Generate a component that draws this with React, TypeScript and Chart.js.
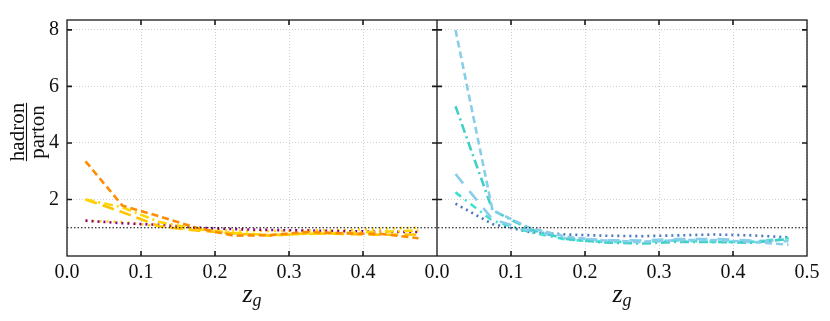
import React, { useEffect, useRef } from "react";
import { Chart, registerables } from "chart.js";

Chart.register(...registerables);

// bin centres in z_g (shared by both panels)
const zgBins = [0.025, 0.075, 0.125, 0.175, 0.225, 0.275, 0.325, 0.375, 0.425, 0.475];

// left panel series (hadron / parton)
const leftOrangeDashed = [3.35, 1.78, 1.4, 1.0, 0.72, 0.74, 0.85, 0.8, 0.78, 0.63];
const leftGoldDashDot = [2.0, 1.72, 1.2, 0.95, 0.82, 0.74, 0.78, 0.82, 0.86, 0.9];
const leftYellowDashed = [2.0, 1.55, 1.05, 0.9, 0.8, 0.72, 0.8, 0.78, 0.75, 0.76];
const leftPurpleDotted = [1.25, 1.16, 1.1, 1.0, 0.95, 0.92, 0.9, 0.88, 0.86, 0.85];
const leftYellowDotted = [1.25, 1.2, 1.05, 0.95, 0.9, 0.88, 0.9, 0.92, 0.97, 1.0];

// right panel series (hadron / parton)
const rightSkyDashed = [8.0, 1.62, 1.0, 0.68, 0.55, 0.5, 0.56, 0.56, 0.5, 0.4];
const rightTealDashDot = [5.3, 1.62, 0.95, 0.6, 0.48, 0.44, 0.5, 0.5, 0.47, 0.6];
const rightSkyLongDash = [2.9, 1.3, 0.9, 0.62, 0.56, 0.55, 0.6, 0.6, 0.55, 0.52];
const rightTurqDashDot = [2.25, 1.25, 0.85, 0.58, 0.5, 0.5, 0.55, 0.5, 0.5, 0.63];
const rightBlueDotted = [1.85, 1.13, 0.85, 0.76, 0.72, 0.7, 0.73, 0.76, 0.73, 0.66];

// reference line and axes
const referenceRatio = 1;
const panelOffsets = [0, 0.5];
const xTickValues = [0, 0.1, 0.2, 0.3, 0.4, 0.5];
const yTickValues = [2, 4, 6, 8];
const yMax = 8.35;
const xTitle = "z";
const xTitleSub = "g";
const yTitleTop = "hadron";
const yTitleBottom = "parton";

const SERIF = "'Liberation Serif', 'DejaVu Serif', serif";

function mk(label: string, vals: number[], offset: number, color: string, dash: number[]) {
  return {
    label,
    data: zgBins.map((x, i) => ({ x: x + offset, y: vals[i] })),
    borderColor: color,
    backgroundColor: color,
    borderWidth: 2.6,
    borderDash: dash,
    pointRadius: 0,
    tension: 0,
    fill: false,
  };
}

const framePlugin = {
  id: "frame",
  afterDraw(chart: any) {
    const { ctx, chartArea, scales } = chart;
    const { left, right, top, bottom } = chartArea;
    const xs = scales.x;
    const ys = scales.y;
    const mid = xs.getPixelForValue(0.5);
    ctx.save();
    ctx.strokeStyle = "#1a1a1a";
    ctx.lineWidth = 1.3;
    ctx.setLineDash([]);
    ctx.strokeRect(left, top, right - left, bottom - top);
    ctx.beginPath();
    ctx.moveTo(mid, top);
    ctx.lineTo(mid, bottom);
    ctx.stroke();
    // inward ticks
    ctx.lineWidth = 1.6;
    const tl = 5;
    ctx.beginPath();
    for (const off of panelOffsets) {
      for (const v of xTickValues) {
        const px = xs.getPixelForValue(v + off);
        if (px <= left + 1 || px >= right - 1 || Math.abs(px - mid) < 1) continue;
        ctx.moveTo(px, bottom);
        ctx.lineTo(px, bottom - tl);
        ctx.moveTo(px, top);
        ctx.lineTo(px, top + tl);
      }
    }
    for (const v of yTickValues) {
      const py = ys.getPixelForValue(v);
      ctx.moveTo(left, py);
      ctx.lineTo(left + tl, py);
      ctx.moveTo(right, py);
      ctx.lineTo(right - tl, py);
      ctx.moveTo(mid - tl, py);
      ctx.lineTo(mid + tl, py);
    }
    ctx.stroke();

    // x titles
    ctx.fillStyle = "#111";
    for (const off of panelOffsets) {
      const cx = (xs.getPixelForValue(off) + xs.getPixelForValue(off + 0.5)) / 2;
      ctx.font = `italic 26px ${SERIF}`;
      const zw = ctx.measureText(xTitle).width;
      ctx.font = `italic 18px ${SERIF}`;
      const gw = ctx.measureText(xTitleSub).width;
      const x0 = cx - (zw + gw) / 2;
      ctx.textAlign = "left";
      ctx.textBaseline = "alphabetic";
      ctx.font = `italic 26px ${SERIF}`;
      ctx.fillText(xTitle, x0, 302);
      ctx.font = `italic 18px ${SERIF}`;
      ctx.fillText(xTitleSub, x0 + zw, 306);
    }

    // y title as a fraction
    ctx.save();
    ctx.translate(26.5, 132);
    ctx.rotate(-Math.PI / 2);
    ctx.font = `21px ${SERIF}`;
    ctx.textAlign = "center";
    const w = Math.max(ctx.measureText(yTitleTop).width, ctx.measureText(yTitleBottom).width);
    ctx.textBaseline = "alphabetic";
    ctx.fillText(yTitleTop, 0, -2.5);
    ctx.textBaseline = "top";
    ctx.fillText(yTitleBottom, 0, 1.5);
    ctx.lineWidth = 1.1;
    ctx.strokeStyle = "#111";
    ctx.beginPath();
    ctx.moveTo(-w / 2, 0);
    ctx.lineTo(w / 2, 0);
    ctx.stroke();
    ctx.restore();

    ctx.restore();
  },
};

export default function App() {
  const ref = useRef<HTMLCanvasElement | null>(null);
  useEffect(() => {
    if (!ref.current) return;
    const L = panelOffsets[0];
    const R = panelOffsets[1];
    const datasets: any[] = [
      {
        label: "ref",
        data: [
          { x: 0, y: referenceRatio },
          { x: 1, y: referenceRatio },
        ],
        borderColor: "#000",
        borderWidth: 1.1,
        borderDash: [1.5, 2],
        pointRadius: 0,
        fill: false,
      },
      mk("L orange", leftOrangeDashed, L, "#ff8c00", [7, 4]),
      mk("L gold", leftGoldDashDot, L, "#ffd700", [9, 4, 2, 4]),
      mk("L yellow", leftYellowDashed, L, "#ffc400", [12, 6]),
      mk("L purple", leftPurpleDotted, L, "#8b008b", [2, 4]),
      mk("L ydot", leftYellowDotted, L, "#ffd700", [2, 5]),
      mk("R sky", rightSkyDashed, R, "#87ceeb", [7, 4]),
      mk("R teal", rightTealDashDot, R, "#40d0c8", [9, 4, 2, 4]),
      mk("R sky2", rightSkyLongDash, R, "#87ceeb", [12, 10]),
      mk("R turq", rightTurqDashDot, R, "#40e0d0", [7, 5, 2, 5]),
      mk("R blue", rightBlueDotted, R, "#4a78c0", [2, 4]),
    ];
    const chart = new Chart(ref.current, {
      type: "line",
      data: { datasets },
      plugins: [framePlugin],
      options: {
        animation: false,
        responsive: false,
        maintainAspectRatio: false,
        layout: { padding: { left: 0, right: 23, top: 11, bottom: 0 } },
        plugins: { legend: { display: false }, tooltip: { enabled: false } },
        scales: {
          x: {
            type: "linear",
            min: 0,
            max: 1,
            afterBuildTicks: (s: any) => {
              const t: any[] = [];
              for (const off of panelOffsets)
                for (const v of xTickValues) {
                  const val = Math.round((v + off) * 10) / 10;
                  if (!t.find((q) => Math.abs(q.value - val) < 1e-9)) t.push({ value: val });
                }
              s.ticks = t;
            },
            afterFit: (s: any) => {
              s.height = 65;
            },
            grid: { color: "#cfcfcf", lineWidth: 1, drawTicks: false },
            border: { display: false, dash: [1, 2] },
            ticks: {
              padding: 5,
              maxRotation: 0,
              autoSkip: false,
              color: "#111",
              font: { family: SERIF, size: 20 },
              callback: (v: any) => {
                const n = Number(v);
                const r = n > 0.5 + 1e-9 ? n - 0.5 : n > 0.5 - 1e-9 ? 0 : n;
                return r.toFixed(1);
              },
            },
          },
          y: {
            type: "linear",
            min: 0,
            max: yMax,
            afterBuildTicks: (s: any) => {
              s.ticks = yTickValues.map((v) => ({ value: v }));
            },
            afterFit: (s: any) => {
              s.width = 67;
            },
            grid: { color: "#cfcfcf", lineWidth: 1, drawTicks: false },
            border: { display: false, dash: [1, 2] },
            ticks: {
              padding: 8,
              color: "#111",
              font: { family: SERIF, size: 20 },
              callback: (v: any) => String(v),
            },
          },
        },
      },
    });
    return () => chart.destroy();
  }, []);
  return (
    <div style={{ position: "absolute", left: 0, top: 0, width: 830, height: 321, background: "#fff" }}>
      <canvas ref={ref} width={830} height={321} style={{ display: "block" }} />
    </div>
  );
}
